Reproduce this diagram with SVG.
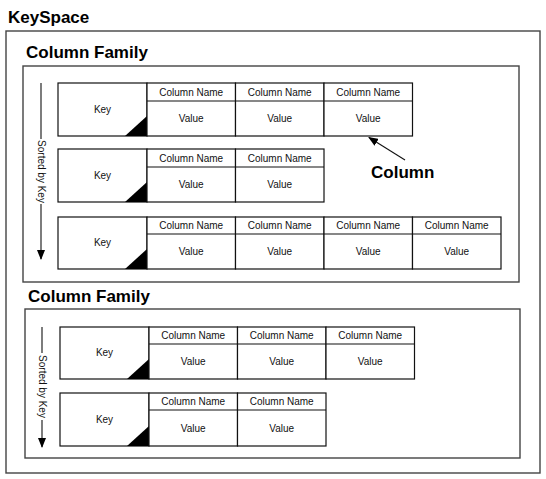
<svg xmlns="http://www.w3.org/2000/svg" width="546" height="479" viewBox="0 0 546 479">
<style>
.frame{fill:none;stroke:#444;stroke-width:1.4}
.cell{fill:#fff;stroke:#111;stroke-width:1.2}
.ln{stroke:#111;stroke-width:1.2}
.tri{fill:#000}
.t{font-family:"Liberation Sans",Arial,sans-serif;font-size:10px;fill:#111;text-anchor:middle;dominant-baseline:central}
.h{font-family:"Liberation Sans",Arial,sans-serif;font-size:17px;font-weight:bold;fill:#000}
.conn{stroke:#111;stroke-width:1.1;fill:none}
</style>
<defs>
<marker id="ah" markerWidth="10" markerHeight="8" refX="9" refY="4" orient="auto" markerUnits="userSpaceOnUse">
<path d="M0,0 L10,4 L0,8 Z" fill="#000"/>
</marker>
</defs>
<rect width="546" height="479" fill="#fff"/>

<g id="keyspace">
<text class="h" x="8" y="23">KeySpace</text>
<rect class="frame" x="6" y="31" width="534" height="442"/>
</g>

<g id="cf1">
<text class="h" x="26" y="58">Column Family</text>
<rect class="frame" x="23" y="66" width="496" height="216"/>
</g>

<g id="cf2">
<text class="h" x="28" y="302">Column Family</text>
<rect class="frame" x="25" y="309" width="495" height="149"/>
</g>

<g id="cf1-row1">
<rect class="cell" x="58" y="83" width="89" height="53"/>
<polygon class="tri" points="125,136 147,136 147,116"/>
<text class="t" x="102.5" y="109">Key</text>
<rect class="cell" x="147" y="83" width="88.5" height="53"/>
<rect class="cell" x="235.5" y="83" width="88.5" height="53"/>
<rect class="cell" x="324" y="83" width="88.5" height="53"/>
<line class="ln" x1="147" y1="101" x2="412.5" y2="101"/>
<text class="t" x="191.2" y="92">Column Name</text>
<text class="t" x="279.7" y="92">Column Name</text>
<text class="t" x="368.2" y="92">Column Name</text>
<text class="t" x="191.2" y="118.5">Value</text>
<text class="t" x="279.7" y="118.5">Value</text>
<text class="t" x="368.2" y="118.5">Value</text>
</g>

<g id="cf1-row2">
<rect class="cell" x="58" y="149" width="89" height="53"/>
<polygon class="tri" points="125,202 147,202 147,182"/>
<text class="t" x="102.5" y="175">Key</text>
<rect class="cell" x="147" y="149" width="88.5" height="53"/>
<rect class="cell" x="235.5" y="149" width="88.5" height="53"/>
<line class="ln" x1="147" y1="167" x2="324" y2="167"/>
<text class="t" x="191.2" y="158">Column Name</text>
<text class="t" x="279.7" y="158">Column Name</text>
<text class="t" x="191.2" y="184.5">Value</text>
<text class="t" x="279.7" y="184.5">Value</text>
</g>

<g id="cf1-row3">
<rect class="cell" x="58" y="217" width="89" height="52"/>
<polygon class="tri" points="125,269 147,269 147,249"/>
<text class="t" x="102.5" y="242">Key</text>
<rect class="cell" x="147" y="217" width="88.5" height="52"/>
<rect class="cell" x="235.5" y="217" width="88.5" height="52"/>
<rect class="cell" x="324" y="217" width="88.5" height="52"/>
<rect class="cell" x="412.5" y="217" width="88.5" height="52"/>
<line class="ln" x1="147" y1="234" x2="501" y2="234"/>
<text class="t" x="191.2" y="225.5">Column Name</text>
<text class="t" x="279.7" y="225.5">Column Name</text>
<text class="t" x="368.2" y="225.5">Column Name</text>
<text class="t" x="456.7" y="225.5">Column Name</text>
<text class="t" x="191.2" y="251.5">Value</text>
<text class="t" x="279.7" y="251.5">Value</text>
<text class="t" x="368.2" y="251.5">Value</text>
<text class="t" x="456.7" y="251.5">Value</text>
</g>

<g id="cf2-row1">
<rect class="cell" x="60" y="327" width="89" height="52"/>
<polygon class="tri" points="127,379 149,379 149,359"/>
<text class="t" x="104.5" y="352">Key</text>
<rect class="cell" x="149" y="327" width="88.5" height="52"/>
<rect class="cell" x="237.5" y="327" width="88.5" height="52"/>
<rect class="cell" x="326" y="327" width="88.5" height="52"/>
<line class="ln" x1="149" y1="344" x2="414.5" y2="344"/>
<text class="t" x="193.2" y="335.5">Column Name</text>
<text class="t" x="281.7" y="335.5">Column Name</text>
<text class="t" x="370.2" y="335.5">Column Name</text>
<text class="t" x="193.2" y="361.5">Value</text>
<text class="t" x="281.7" y="361.5">Value</text>
<text class="t" x="370.2" y="361.5">Value</text>
</g>

<g id="cf2-row2">
<rect class="cell" x="60" y="393" width="89" height="53"/>
<polygon class="tri" points="127,446 149,446 149,426"/>
<text class="t" x="104.5" y="419">Key</text>
<rect class="cell" x="149" y="393" width="88.5" height="53"/>
<rect class="cell" x="237.5" y="393" width="88.5" height="53"/>
<line class="ln" x1="149" y1="410" x2="326" y2="410"/>
<text class="t" x="193.2" y="401.5">Column Name</text>
<text class="t" x="281.7" y="401.5">Column Name</text>
<text class="t" x="193.2" y="428">Value</text>
<text class="t" x="281.7" y="428">Value</text>
</g>

<g id="column-label">
<text class="h" x="371" y="178">Column</text>
</g>

<g id="connectors">
<line class="conn" x1="405" y1="160" x2="369" y2="137.5" marker-end="url(#ah)"/>
<line class="conn" x1="41" y1="83" x2="41" y2="139"/>
<line class="conn" x1="41" y1="204" x2="41" y2="259" marker-end="url(#ah)"/>
<text class="t" transform="translate(41,171.5) rotate(90)" x="0" y="0">Sorted by Key</text>
<line class="conn" x1="42" y1="327" x2="42" y2="353"/>
<line class="conn" x1="42" y1="420" x2="42" y2="447" marker-end="url(#ah)"/>
<text class="t" transform="translate(42,386.5) rotate(90)" x="0" y="0">Sorted by Key</text>
</g>
</svg>
